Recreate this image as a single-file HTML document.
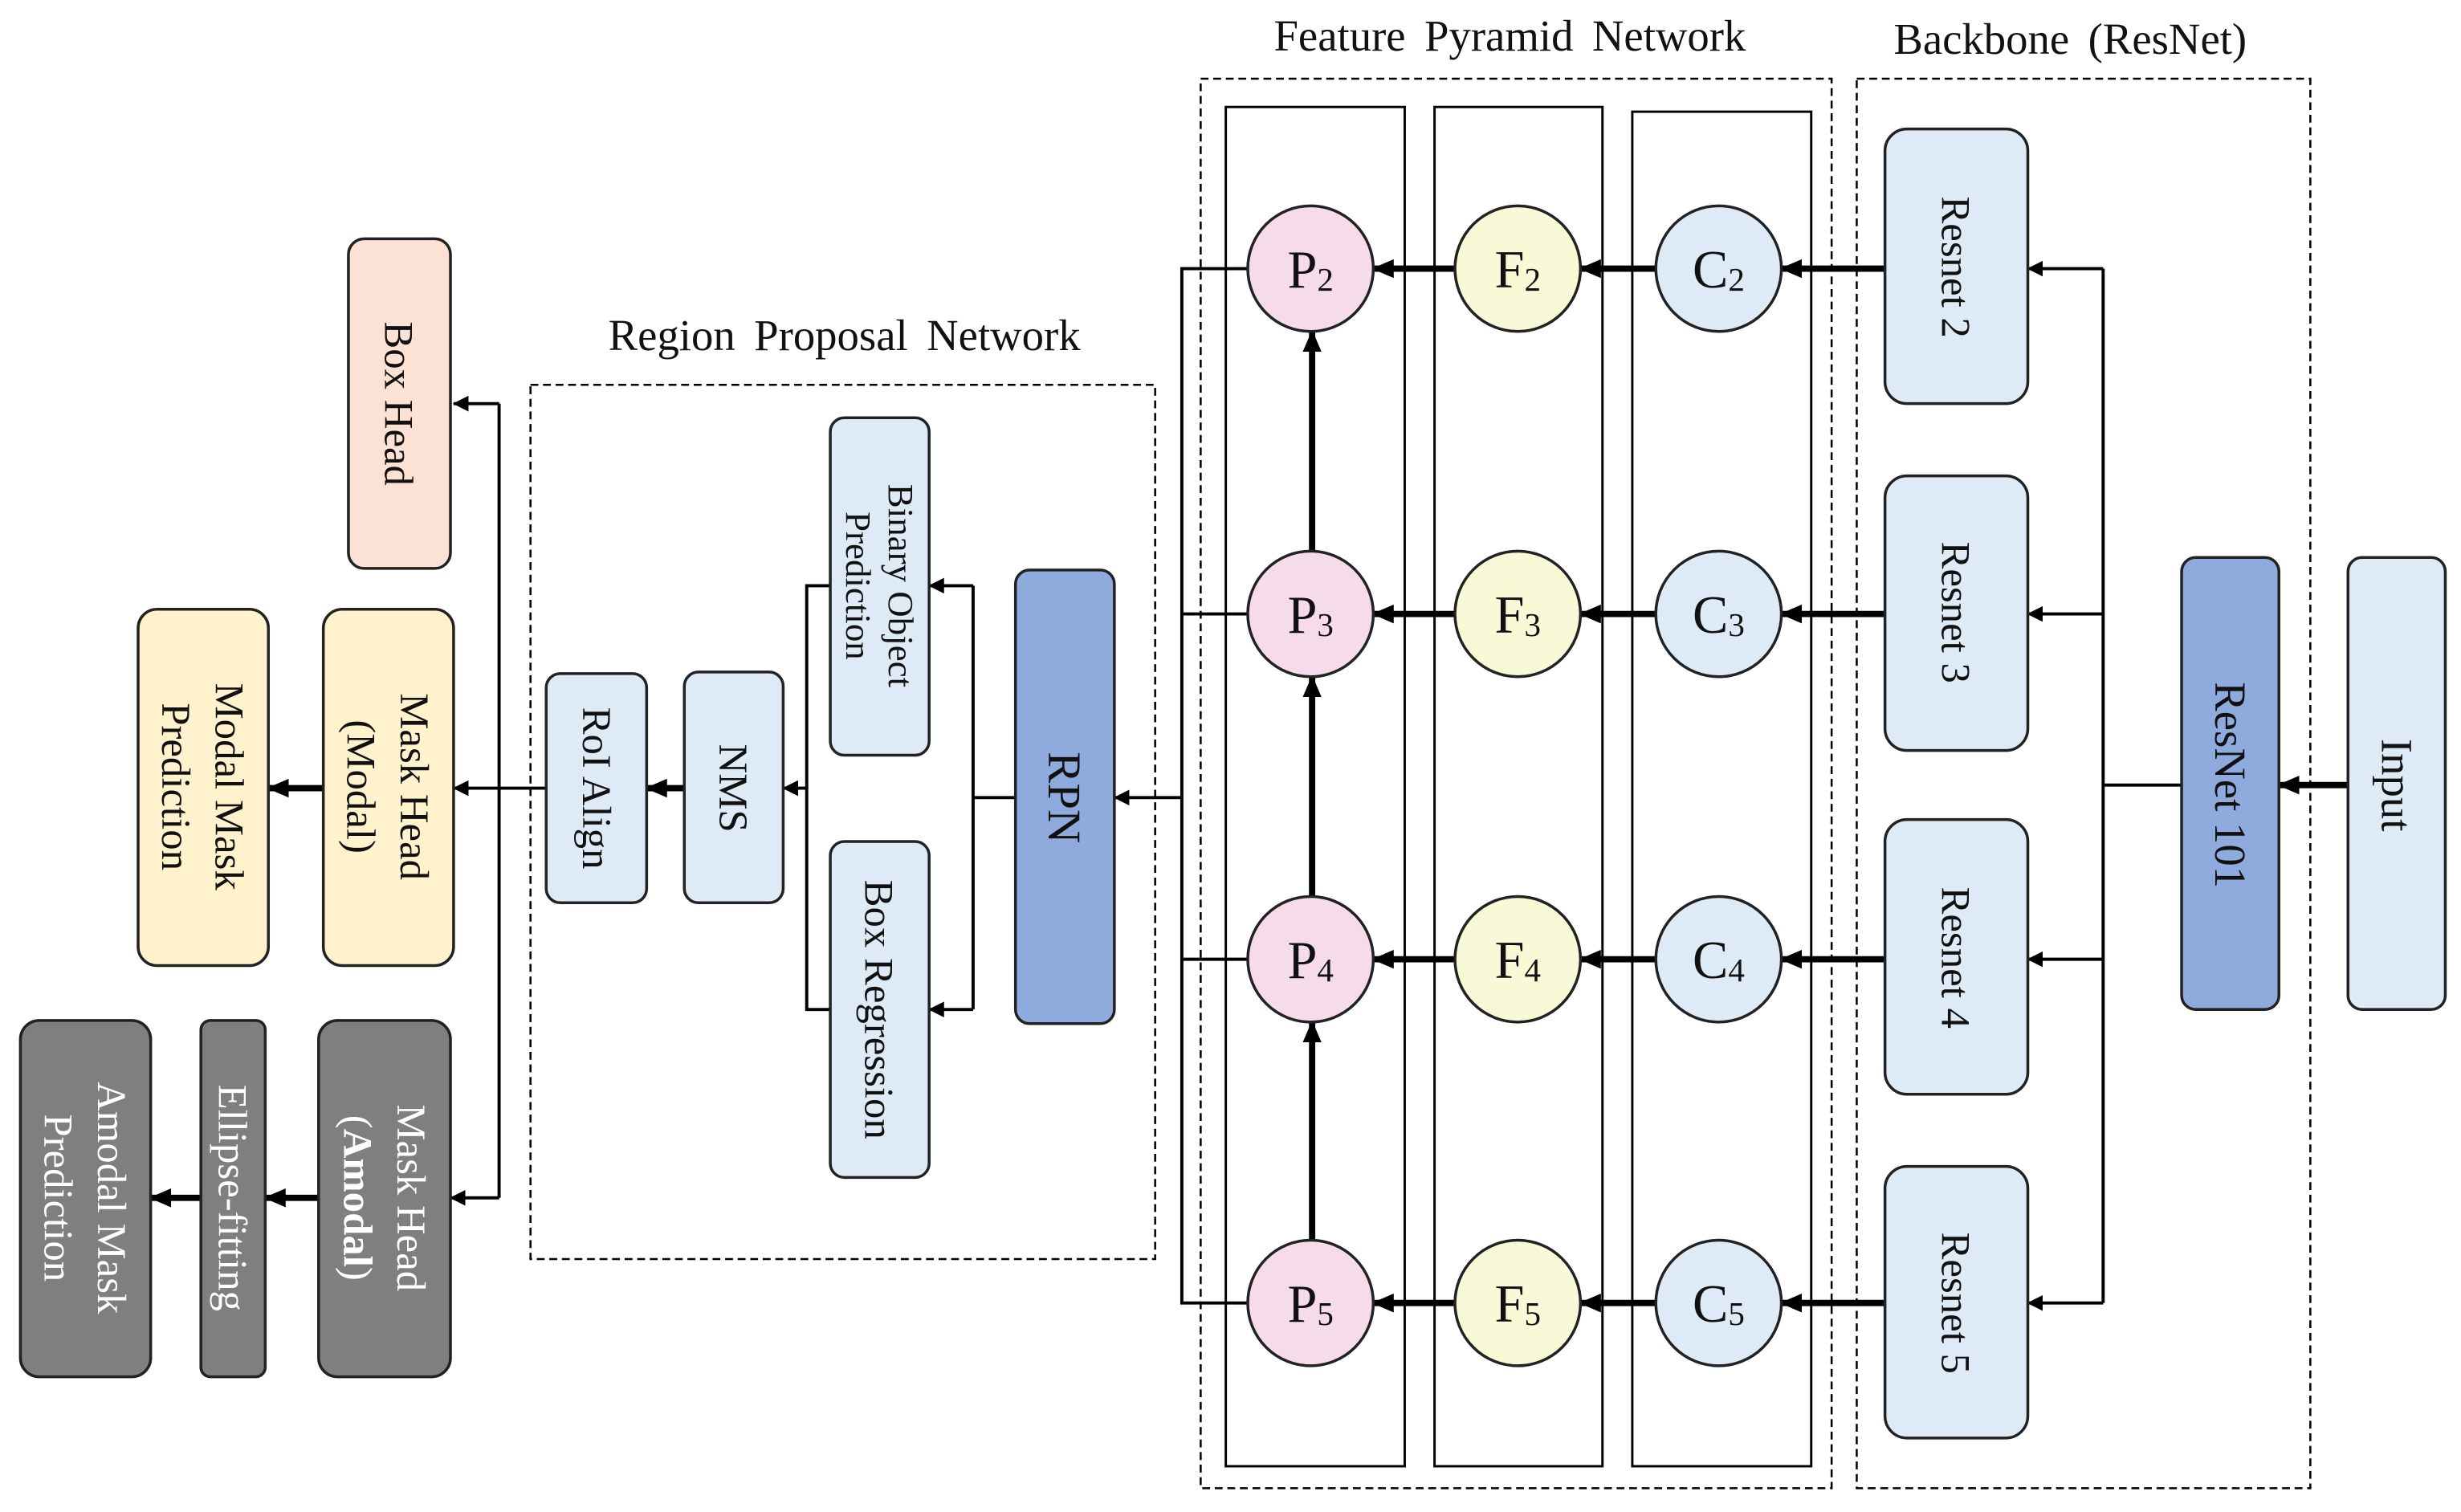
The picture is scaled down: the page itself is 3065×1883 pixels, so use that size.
<!DOCTYPE html>
<html><head><meta charset="utf-8"><style>
html,body{margin:0;padding:0;background:#fff}
svg{display:block}
text{font-family:"Liberation Serif","Times New Roman",serif;fill:#111}
</style></head><body>
<svg width="3065" height="1883" viewBox="0 0 1568 963" xmlns="http://www.w3.org/2000/svg">
<defs>
<marker id="a" markerUnits="userSpaceOnUse" markerWidth="14" markerHeight="12" refX="13" refY="6" orient="auto"><path d="M0,0 L14,6 L0,12 Z" fill="#000"/></marker>
<marker id="s" markerUnits="userSpaceOnUse" markerWidth="10" markerHeight="10" refX="9.5" refY="5" orient="auto"><path d="M0,0 L10,5 L0,10 Z" fill="#000"/></marker>
</defs>
<rect width="1568" height="963" fill="#fff"/>

<text x="538" y="223" font-size="28" text-anchor="middle" word-spacing="5">Region Proposal Network</text>
<text x="962" y="32" font-size="28" text-anchor="middle" word-spacing="5">Feature Pyramid Network</text>
<text x="1319" y="34" font-size="28" text-anchor="middle" word-spacing="5">Backbone (ResNet)</text>

<g fill="none" stroke="#000" stroke-width="1.3" stroke-dasharray="5,3">
<rect x="338" y="245" width="398" height="557"/>
<rect x="765" y="50" width="402" height="898"/>
<rect x="1183" y="50" width="289" height="898"/>
</g>
<g fill="none" stroke="#000" stroke-width="1.5">
<rect x="781" y="68" width="114" height="866"/>
<rect x="914" y="68" width="107" height="866"/>
<rect x="1040" y="71" width="114" height="863"/>
</g>

<g stroke="#000" stroke-width="2" fill="none">
<polyline points="348,502 318,502"/>
<polyline points="318,257 318,763"/>
<line x1="318" y1="257" x2="289" y2="257" marker-end="url(#s)"/>
<line x1="318" y1="502" x2="289" y2="502" marker-end="url(#s)"/>
<line x1="318" y1="763" x2="287" y2="763" marker-end="url(#s)"/>
<polyline points="647,508 620,508"/>
<polyline points="620,373 620,643"/>
<line x1="620" y1="373" x2="592" y2="373" marker-end="url(#s)"/>
<line x1="620" y1="643" x2="592" y2="643" marker-end="url(#s)"/>
<polyline points="529,373 514,373 514,643 529,643"/>
<line x1="514" y1="502" x2="499" y2="502" marker-end="url(#s)"/>
<polyline points="795,171 753,171 753,830 795,830"/>
<line x1="753" y1="391" x2="795" y2="391"/>
<line x1="753" y1="611" x2="795" y2="611"/>
<line x1="753" y1="508" x2="710" y2="508" marker-end="url(#s)"/>
<polyline points="1390,500 1340,500"/>
<polyline points="1340,171 1340,830"/>
<line x1="1340" y1="171" x2="1292" y2="171" marker-end="url(#s)"/>
<line x1="1340" y1="391" x2="1292" y2="391" marker-end="url(#s)"/>
<line x1="1340" y1="611" x2="1292" y2="611" marker-end="url(#s)"/>
<line x1="1340" y1="830" x2="1292" y2="830" marker-end="url(#s)"/>
</g>
<g stroke="#000" stroke-width="4" fill="none">
<line x1="206" y1="502" x2="171" y2="502" marker-end="url(#a)"/>
<line x1="203" y1="763" x2="169" y2="763" marker-end="url(#a)"/>
<line x1="128" y1="763" x2="96" y2="763" marker-end="url(#a)"/>
<line x1="436" y1="502" x2="412" y2="502" marker-end="url(#a)"/>
<line x1="1496" y1="500" x2="1452" y2="500" marker-end="url(#a)"/>
<line x1="1201" y1="171" x2="1135" y2="171" marker-end="url(#a)"/>
<line x1="1201" y1="391" x2="1135" y2="391" marker-end="url(#a)"/>
<line x1="1201" y1="611" x2="1135" y2="611" marker-end="url(#a)"/>
<line x1="1201" y1="830" x2="1135" y2="830" marker-end="url(#a)"/>
<line x1="1055" y1="171" x2="1007" y2="171" marker-end="url(#a)"/>
<line x1="1055" y1="391" x2="1007" y2="391" marker-end="url(#a)"/>
<line x1="1055" y1="611" x2="1007" y2="611" marker-end="url(#a)"/>
<line x1="1055" y1="830" x2="1007" y2="830" marker-end="url(#a)"/>
<line x1="927" y1="171" x2="875" y2="171" marker-end="url(#a)"/>
<line x1="927" y1="391" x2="875" y2="391" marker-end="url(#a)"/>
<line x1="927" y1="611" x2="875" y2="611" marker-end="url(#a)"/>
<line x1="927" y1="830" x2="875" y2="830" marker-end="url(#a)"/>
<line x1="836" y1="351" x2="836" y2="211" marker-end="url(#a)"/>
<line x1="836" y1="571" x2="836" y2="431" marker-end="url(#a)"/>
<line x1="836" y1="790" x2="836" y2="651" marker-end="url(#a)"/>
</g>

<g stroke="#222" stroke-width="1.8">
<rect x="222" y="152" width="65" height="210" rx="10" fill="#fbe2d5"/>
<rect x="206" y="388" width="83" height="227" rx="12" fill="#fff2cc"/>
<rect x="88" y="388" width="83" height="227" rx="12" fill="#fff2cc"/>
<rect x="203" y="650" width="84" height="227" rx="12" fill="#7f7f7f"/>
<rect x="128" y="650" width="41" height="227" rx="6" fill="#7f7f7f"/>
<rect x="13" y="650" width="83" height="227" rx="12" fill="#7f7f7f"/>
<rect x="348" y="429" width="64" height="146" rx="9" fill="#deebf7"/>
<rect x="436" y="428" width="63" height="147" rx="9" fill="#deebf7"/>
<rect x="529" y="266" width="63" height="215" rx="9" fill="#deebf7"/>
<rect x="529" y="536" width="63" height="214" rx="9" fill="#deebf7"/>
<rect x="647" y="363" width="63" height="289" rx="9" fill="#8faadc"/>
<rect x="1201" y="82" width="91" height="175" rx="14" fill="#deebf7"/>
<rect x="1201" y="303" width="91" height="175" rx="14" fill="#deebf7"/>
<rect x="1201" y="522" width="91" height="175" rx="14" fill="#deebf7"/>
<rect x="1201" y="743" width="91" height="173" rx="14" fill="#deebf7"/>
<rect x="1390" y="355" width="62" height="288" rx="9" fill="#8faadc"/>
<rect x="1496" y="355" width="62" height="288" rx="9" fill="#deebf7"/>
</g>
<g stroke="#222" stroke-width="1.8">
<circle cx="835" cy="171" r="40" fill="#f6dcea"/>
<circle cx="835" cy="391" r="40" fill="#f6dcea"/>
<circle cx="835" cy="611" r="40" fill="#f6dcea"/>
<circle cx="835" cy="830" r="40" fill="#f6dcea"/>
<circle cx="967" cy="171" r="40" fill="#f7f9d7"/>
<circle cx="967" cy="391" r="40" fill="#f7f9d7"/>
<circle cx="967" cy="611" r="40" fill="#f7f9d7"/>
<circle cx="967" cy="830" r="40" fill="#f7f9d7"/>
<circle cx="1095" cy="171" r="40" fill="#deebf7"/>
<circle cx="1095" cy="391" r="40" fill="#deebf7"/>
<circle cx="1095" cy="611" r="40" fill="#deebf7"/>
<circle cx="1095" cy="830" r="40" fill="#deebf7"/>
</g>
<g font-size="34" text-anchor="middle">
<text x="835" y="183">P<tspan font-size="21" dy="2">2</tspan></text>
<text x="835" y="403">P<tspan font-size="21" dy="2">3</tspan></text>
<text x="835" y="623">P<tspan font-size="21" dy="2">4</tspan></text>
<text x="835" y="842">P<tspan font-size="21" dy="2">5</tspan></text>
<text x="967" y="183">F<tspan font-size="21" dy="2">2</tspan></text>
<text x="967" y="403">F<tspan font-size="21" dy="2">3</tspan></text>
<text x="967" y="623">F<tspan font-size="21" dy="2">4</tspan></text>
<text x="967" y="842">F<tspan font-size="21" dy="2">5</tspan></text>
<text x="1095" y="183">C<tspan font-size="21" dy="2">2</tspan></text>
<text x="1095" y="403">C<tspan font-size="21" dy="2">3</tspan></text>
<text x="1095" y="623">C<tspan font-size="21" dy="2">4</tspan></text>
<text x="1095" y="842">C<tspan font-size="21" dy="2">5</tspan></text>
</g>

<g font-size="26" text-anchor="middle" dominant-baseline="central">
<text transform="translate(254,257) rotate(90)">Box Head</text>
<text transform="translate(247,501) rotate(90)"><tspan x="0" y="-17">Mask Head</tspan><tspan x="0" y="17">(Modal)</tspan></text>
<text transform="translate(129,501) rotate(90)"><tspan x="0" y="-17">Modal Mask</tspan><tspan x="0" y="17">Prediction</tspan></text>
<text transform="translate(245,763) rotate(90)" style="fill:#fff"><tspan x="0" y="-17" style="fill:#fff">Mask Head</tspan><tspan x="0" y="17" style="fill:#fff">(<tspan font-weight="bold" style="fill:#fff">Amodal</tspan>)</tspan></text>
<text transform="translate(148,763) rotate(90)" style="fill:#fff">Ellipse-fitting</text>
<text transform="translate(54,763) rotate(90)" style="fill:#fff"><tspan x="0" y="-17" style="fill:#fff">Amodal Mask</tspan><tspan x="0" y="17" style="fill:#fff">Prediction</tspan></text>
<text transform="translate(380,502) rotate(90)">RoI Align</text>
<text transform="translate(467,502) rotate(90)">NMS</text>
<text transform="translate(560,373) rotate(90)" font-size="23"><tspan x="0" y="-14">Binary Object</tspan><tspan x="0" y="13">Prediction</tspan></text>
<text transform="translate(560,643) rotate(90)">Box Regression</text>
<text transform="translate(678,508) rotate(90)" font-size="30">RPN</text>
<text transform="translate(1246,170) rotate(90)">Resnet 2</text>
<text transform="translate(1246,390) rotate(90)">Resnet 3</text>
<text transform="translate(1246,610) rotate(90)">Resnet 4</text>
<text transform="translate(1246,830) rotate(90)">Resnet 5</text>
<text transform="translate(1421,500) rotate(90)" font-size="28">ResNet 101</text>
<text transform="translate(1527,500) rotate(90)" font-size="28">Input</text>
</g>
</svg>
</body></html>
